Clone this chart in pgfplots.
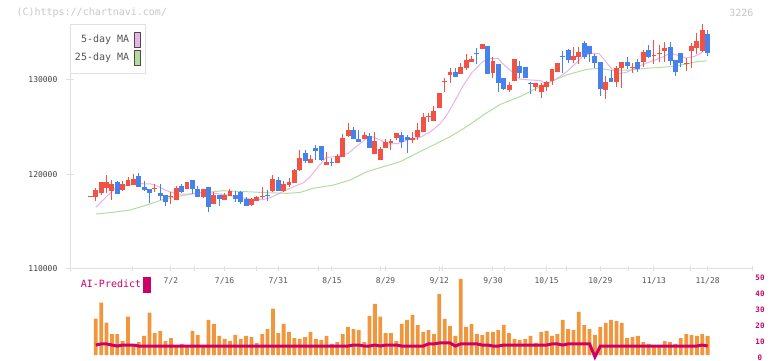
\documentclass[border=0pt]{standalone}
\usepackage{fontspec}
\setmainfont{DejaVu Sans Mono}
\usepackage{pgfplots}
\usepackage{pgfplotstable}
\pgfplotsset{compat=1.18}
\definecolor{cred}{HTML}{F25244}
\definecolor{cblue}{HTML}{4682EE}
\definecolor{ma5}{HTML}{E8B4E8}
\definecolor{ma25}{HTML}{B4DCA0}
\definecolor{vol}{HTML}{F0963C}
\definecolor{aic}{HTML}{CC0066}
\definecolor{axg}{HTML}{E0E0E0}
\definecolor{txt}{HTML}{555555}

\pgfplotstableread{
i o h l c
-1 117610 117660 117610 117660
0 117607 118492 117182 118315
1 117961 119200 117784 119129
2 118492 119908 117961 119129
3 118244 119377 117253 118955
5 118315 119271 118244 118917
6 118775 119660 118775 119377
7 118811 120014 118811 119483
11 118460 118952 118138 118530
14 117571 118138 116828 117642
15 117253 118740 117253 118563
17 118421 119165 118421 119165
20 117607 118421 117430 118421
22 116864 118067 116864 117784
24 117253 118032 117253 117784
25 117713 118457 117713 118209
29 116722 117501 116651 117359
30 117182 117713 117182 117607
31 117607 118669 117324 117678
33 118244 119908 118067 119483
35 118244 119271 118138 118955
36 118846 119625 118669 119200
37 119094 120545 119023 120439
38 120439 122563 120333 121678
40 121147 122032 121147 121572
43 120970 122315 120970 121289
45 121218 122138 121218 121926
46 121855 124262 121784 123873
47 124050 125466 123979 124687
50 123767 124439 123700 124192
52 122174 124439 122174 123554
53 121501 122917 121501 122669
54 122811 123696 122811 123448
55 123271 123731 122563 123519
56 123873 124369 123625 124369
59 123625 124475 123300 123837
60 123979 125430 123600 124687
61 124439 126457 124439 126050
62 126068 126528 125572 126138
63 125678 127271 125678 126705
64 127059 128617 127059 128617
65 129785 130245 128758 129855
66 130528 131307 129714 130847
68 130634 131767 130634 131378
69 131307 132758 131094 132121
70 131944 132546 131900 132227
72 133289 133820 133289 133820
74 130776 132475 130174 132015
77 128935 129820 128687 129466
78 129926 132227 129926 132227
82 129218 129643 128829 129643
83 128758 129643 128121 129466
84 129218 129926 128829 129820
85 129926 131165 129466 131165
86 130882 131803 130882 131803
89 132121 133466 131838 132546
90 132404 133466 131696 132971
95 128970 130422 128015 129785
97 129820 131484 129254 131271
98 131271 131909 129183 131909
100 131271 131767 130776 131342
102 131909 133183 131342 132971
104 132581 134245 131661 132652
105 132758 133714 131944 132900
106 133112 133997 131944 133395
110 131732 132333 130988 131802
111 133112 133891 131307 133572
112 133360 134953 132794 134174
113 133077 135944 133006 135307
}\redtab

\pgfplotstableread{
i o h l c
4 119165 119271 117926 117926
8 119802 120085 118669 118669
9 118634 119271 118209 118315
10 118421 118421 116899 118032
12 117996 118952 117253 117678
13 117784 117784 116651 117076
16 118775 118988 118032 118138
18 119377 119377 117890 118457
19 118421 118740 117607 117607
21 118634 118634 116014 116545
23 117784 117784 116651 117359
26 117749 118209 117041 117359
27 118138 118209 116793 117076
28 117359 117607 116651 116651
32 117820 118315 117182 117749
34 119377 119660 118209 118209
39 122209 122563 121147 121430
41 122775 123094 121501 122492
42 122988 122988 121395 121501
44 121289 121678 120899 121218
48 124687 125041 123767 123767
49 123731 124687 123448 123448
51 124085 124333 122811 122811
57 124192 124439 122811 123448
58 123944 124192 122209 123625
67 130847 131271 130351 130351
71 132829 133360 131661 132723
73 133608 133608 130670 130670
75 131732 131732 128687 129714
76 130245 130245 128935 129077
79 131484 132015 130174 130776
80 131378 131378 130174 130174
81 129714 129820 128475 129572
87 132510 133077 130705 132404
88 133183 133254 131767 132121
91 133962 134139 132263 132475
92 133608 133608 131909 132723
93 132581 132723 131236 131838
94 131909 131909 128298 129077
96 130209 131059 129820 129820
99 131909 132440 131165 131519
101 131909 132227 130882 131165
103 133183 133714 132298 132475
107 133502 134033 131590 132015
108 132121 132121 130457 130882
109 132864 132864 131413 131802
114 134882 135307 132581 132900
}\bluetab

\pgfplotstableread{
i v a
0 24.4 7.9
1 34.4 8.6
2 21.9 8.6
3 14.8 7.9
4 14.8 7.3
5 10.4 7.9
6 25.6 7.9
7 7.9 7.9
8 9.8 7.3
9 13.6 7.3
10 28.1 7.3
11 15.4 7.3
12 16.7 7.3
13 10.4 7.3
14 12.3 7.3
15 7.9 7.3
16 8.6 7.3
17 7.9 7.3
18 16.7 7.3
19 14.2 7.3
20 7.9 7.3
21 23.6 7.3
22 21.1 7.3
23 13.6 7.3
24 11.7 7.3
25 10.4 7.3
26 14.2 7.3
27 11.7 7.3
28 13.6 7.3
29 12.9 7.3
30 9.2 7.3
31 14.8 7.3
32 17.9 7.3
33 30.6 7.3
34 15.4 7.3
35 21.1 7.3
36 16.1 7.3
37 12.3 7.3
38 11.7 7.3
39 12.9 7.3
40 16.1 7.3
41 11.7 7.3
42 11.1 7.3
43 13.6 7.3
44 8.6 7.3
45 9.8 7.3
46 14.8 7.3
47 19.2 7.3
48 17.9 7.9
49 17.3 7.9
50 9.8 7.3
51 26.1 7.3
52 33.6 7.9
53 25.6 7.3
54 15.4 7.9
55 15.4 7.9
56 10.4 7.9
57 21.1 7.3
58 23.6 7.3
59 26.7 7.3
60 20.4 7.3
61 16.1 7.3
62 17.3 8.6
63 14.8 8.6
64 39.8 9.2
65 24.2 9.2
66 19.8 9.2
67 13.6 7.3
68 49.2 8.6
69 19.2 8.6
70 21.1 8.6
71 14.8 8.6
72 14.2 7.9
73 16.1 7.9
74 16.1 7.3
75 17.3 7.3
76 20.4 7.9
77 15.4 7.9
78 11.7 7.9
79 11.1 7.9
80 11.7 7.9
81 13.6 7.9
82 9.2 7.9
83 16.1 7.9
84 16.7 7.9
85 13.6 8.6
86 14.8 8.6
87 23.6 7.9
88 17.9 8.6
89 17.3 8.6
90 28.6 8.6
91 20.4 8.6
92 17.9 8.6
93 14.2 0.5
94 19.2 7.3
95 21.7 7.3
96 23.6 7.3
97 22.9 7.3
98 21.7 7.3
99 12.3 7.3
100 12.9 7.3
101 13.6 7.3
102 9.8 7.3
103 8.6 7.3
104 7.3 7.3
105 7.3 7.3
106 10.4 7.3
107 9.8 7.3
108 8.6 7.3
109 12.3 7.3
110 14.8 7.3
111 14.2 7.3
112 13.6 7.3
113 14.8 7.9
114 13.6 7.3
}\voltab

\begin{document}
\begin{tikzpicture}[x=1pt,y=1pt]
\useasboundingbox (0,0) rectangle (772,361);

% ---------------- main price panel ----------------
\begin{axis}[
  at={(70pt,92.7pt)}, anchor=south west,
  scale only axis, width=682pt, height=244.3pt,
  xmin=-4.807, xmax=122.265, ymin=110000, ymax=135945,
  clip=false,
  axis x line*=bottom, axis y line*=left,
  axis line style={-, draw=axg, line width=1pt},
  xtick={-4.807,6.745,18.297,29.849,41.401,52.953,64.505,76.057,87.609,99.161,110.713,122.265},
  xticklabels={},
  xtick style={draw=axg, line width=1pt, /pgfplots/major tick length=5pt},
  xtick align=center,
  extra x ticks={14,24,34,44,54,64,74,84,94,104,114},
  extra x tick labels={7/2,7/16,7/31,8/15,8/29,9/12,9/30,10/15,10/29,11/13,11/28},
  extra x tick style={major tick length=0pt, tick style={draw=none},
     xticklabel style={font=\fontsize{8}{8}\selectfont, text=txt, yshift=-6pt}},
  ytick={110000,120000,130000},
  yticklabels={110000,120000,130000},
  scaled y ticks=false,
  ytick style={draw=axg, line width=1pt, /pgfplots/major tick length=8pt},
  ytick align=center,
  yticklabel style={font=\fontsize{8}{8}\selectfont, text=black!75, xshift=-7pt},
  legend plot pos=right,
  legend cell align=right,
  legend style={at={(0,1)}, anchor=north west, draw=axg, line width=1pt, fill=white,
     font=\fontsize{10}{10}\selectfont, text=txt, inner xsep=2.5pt, inner ysep=7.5pt,
     row sep=2.8pt, column sep=3pt},
]
\addlegendimage{legend image code/.code={\draw[draw=black!70, fill=ma5, line width=0.8pt] (0pt,-7.3pt) rectangle (5.5pt,7.3pt); \path[draw=none, fill=none] (5.5pt,0pt) rectangle (8.5pt,0.1pt);}}
\addlegendentry{5-day MA}
\addlegendimage{legend image code/.code={\draw[draw=black!70, fill=ma25, line width=0.8pt] (0pt,-7.3pt) rectangle (5.5pt,7.3pt); \path[draw=none, fill=none] (5.5pt,0pt) rectangle (8.5pt,0.1pt);}}
\addlegendentry{25-day MA}

% 25-day moving average
\addplot[ma25, line width=1pt, forget plot] table {
x y
0.0 115766
3.2 115947
6.4 116191
9.5 116722
12.6 117306
15.7 117678
18.8 117964
21.9 118135
23.8 118241
28.1 118135
31.8 118028
35.6 117964
38.0 118049
40.5 118496
44.3 118846
47.4 119377
50.5 120259
53.6 120790
56.7 121320
59.8 122213
62.9 123094
66.0 123975
69.1 125038
72.2 126280
75.3 127395
79.0 128224
80.9 128755
84.0 129647
87.7 130528
91.5 131133
94.0 131240
95.8 131059
99.5 131059
102.6 131240
107.0 131410
110.1 131696
112.0 131941
113.8 132047
};
% 5-day moving average
\addplot[ma5, line width=1pt, forget plot] table {
x y
0.0 116478
1.7 117434
3.6 118496
6.0 118846
8.4 118985
10.3 118952
11.6 118708
13.1 118262
15.1 117890
17.2 117890
19.4 118028
22.2 117964
24.4 117784
26.9 117519
29.5 117306
31.3 117306
32.8 117571
34.9 118155
36.7 118633
38.6 119058
39.9 119696
41.4 120758
42.9 121766
45.1 121894
47.0 122192
48.9 123094
50.3 123732
51.5 123975
52.8 123678
54.4 123200
56.3 123253
58.4 123678
60.4 123912
62.3 124475
64.1 125324
65.4 126280
66.9 127767
68.4 129360
70.1 130794
72.0 131909
73.4 132302
74.9 132302
75.9 131696
77.6 130847
78.9 130103
80.9 129997
82.8 129944
83.9 129572
85.2 129944
86.5 130348
87.8 130900
89.3 131696
90.8 132546
92.5 132832
93.8 132779
94.7 132174
96.0 131240
97.3 130687
98.8 130794
100.7 131325
102.9 131856
105.5 132408
107.2 132864
108.5 132599
110.0 132333
111.5 132493
112.8 132864
113.6 133396
114.1 133714
};

% wicks
\addplot[draw=none, mark=none, forget plot, error bars/.cd, y dir=plus, y explicit, error mark=none,
  error bar style={draw=cred, line width=1pt, solid}]
  table[x=i, y=l, y error plus expr=\thisrow{h}-\thisrow{l}] {\redtab};
\addplot[draw=none, mark=none, forget plot, error bars/.cd, y dir=plus, y explicit, error mark=none,
  error bar style={draw=cblue, line width=1pt, solid}]
  table[x=i, y=l, y error plus expr=\thisrow{h}-\thisrow{l}] {\bluetab};
% bodies
\addplot[draw=none, mark=none, forget plot, error bars/.cd, y dir=plus, y explicit, error mark=none,
  error bar style={draw=cred, line width=4.9pt, solid}]
  table[x=i, y=o, y error plus expr=\thisrow{c}-\thisrow{o}] {\redtab};
\addplot[draw=none, mark=none, forget plot, error bars/.cd, y dir=plus, y explicit, error mark=none,
  error bar style={draw=cblue, line width=4.9pt, solid}]
  table[x=i, y=c, y error plus expr=\thisrow{o}-\thisrow{c}] {\bluetab};
\end{axis}

% ---------------- volume bars ----------------
\begin{axis}[
  at={(70pt,5.86pt)}, anchor=south west,
  scale only axis, width=682pt, height=77.44pt,
  xmin=-4.807, xmax=122.265, ymin=1.6, ymax=50,
  hide axis,
]
\addplot[ybar, bar width=3.8pt, fill=vol, draw=none] table[x=i, y=v] {\voltab};
\end{axis}

% ---------------- AI-Predict line ----------------
\begin{axis}[
  at={(70pt,3.3pt)}, anchor=south west,
  scale only axis, width=682pt, height=80pt,
  xmin=-4.807, xmax=122.265, ymin=0, ymax=50,
  clip=false,
  axis x line=none, axis y line*=right,
  axis line style={draw=none},
  xtick=\empty,
  ytick={0,10,20,30,40,50},
  yticklabels={0,10,20,30,40,50},
  ytick style={draw=none},
  yticklabel style={font=\bfseries\fontsize{7.5}{7.5}\selectfont, text=aic, anchor=center, xshift=8pt},
  legend plot pos=right,
  legend style={at={(0.1175,0.91)}, anchor=east, draw=none, fill=none,
     font=\fontsize{10}{10}\selectfont, text=aic, inner xsep=0pt, inner ysep=0pt},
]
\addlegendimage{legend image code/.code={\fill[aic] (0pt,-7.8pt) rectangle (6.4pt,7.8pt);}}
\addlegendentry{AI-Predict}
\addplot[aic, line width=3pt, forget plot] table[x=i, y=a] {\voltab};
\end{axis}

\node[anchor=west, text=black!22, font=\fontsize{10}{10}\selectfont] at (13,348.3) {(C)https://chartnavi.com/};
\node[anchor=east, text=black!22, font=\fontsize{10}{10}\selectfont] at (757,348.3) {3226};
\end{tikzpicture}
\end{document}
